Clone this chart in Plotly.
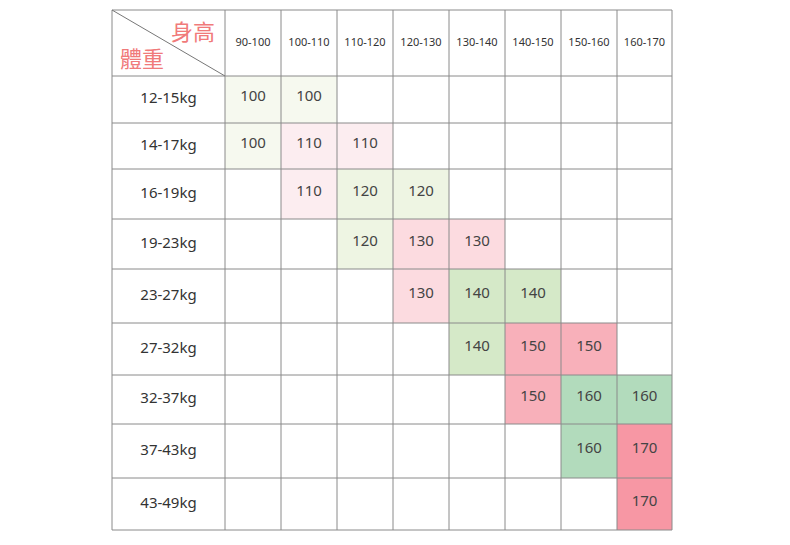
import plotly.graph_objects as go

heights = ["90-100", "100-110", "110-120", "120-130", "130-140", "140-150", "150-160", "160-170"]
weights = ["12-15kg", "14-17kg", "16-19kg", "19-23kg", "23-27kg", "27-32kg", "32-37kg", "37-43kg", "43-49kg"]
sizes = [
    [100, 100, None, None, None, None, None, None],
    [100, 110, 110, None, None, None, None, None],
    [None, 110, 120, 120, None, None, None, None],
    [None, None, 120, 130, 130, None, None, None],
    [None, None, None, 130, 140, 140, None, None],
    [None, None, None, None, 140, 150, 150, None],
    [None, None, None, None, None, 150, 160, 160],
    [None, None, None, None, None, None, 160, 170],
    [None, None, None, None, None, None, None, 170],
]
size_colors = {100: "#f6f9ef", 110: "#fcedf0", 120: "#eef5e3", 130: "#fcdbe0",
               140: "#d5e9c8", 150: "#f8b0ba", 160: "#b2dbbc", 170: "#f797a4"}

# pixel layout of the table
col_edges = [112, 225, 281, 337, 393, 449, 505, 561, 617, 672]
row_edges = [10, 76, 123, 169, 219, 269, 323, 375, 424, 478, 530]
line_col = "#8a8a8a"
font = "Malgun Gothic, Noto Sans, sans-serif"

fig = go.Figure()
shapes = []
for r, row in enumerate(sizes):
    for c, v in enumerate(row):
        if v is None:
            continue
        shapes.append(dict(type="rect", x0=col_edges[c + 1], x1=col_edges[c + 2],
                           y0=row_edges[r + 1], y1=row_edges[r + 2],
                           fillcolor=size_colors[v], line_width=0, layer="below"))
for x in col_edges:
    shapes.append(dict(type="line", x0=x, x1=x, y0=row_edges[0], y1=row_edges[-1], line=dict(color=line_col, width=1)))
for y in row_edges:
    shapes.append(dict(type="line", x0=col_edges[0], x1=col_edges[-1], y0=y, y1=y, line=dict(color=line_col, width=1)))
shapes.append(dict(type="line", x0=col_edges[0], x1=col_edges[1], y0=row_edges[0], y1=row_edges[1],
                   line=dict(color="#777", width=1)))

# header row
hx = [(col_edges[i + 1] + col_edges[i + 2]) / 2 for i in range(len(heights))]
fig.add_trace(go.Scatter(x=hx, y=[(row_edges[0] + row_edges[1]) / 2] * len(heights), mode="text",
                         text=heights, textfont=dict(size=11, color="#333", family=font)))
# weight labels
wy = [(row_edges[i + 1] + row_edges[i + 2]) / 2 for i in range(len(weights))]
fig.add_trace(go.Scatter(x=[(col_edges[0] + col_edges[1]) / 2] * len(weights), y=wy, mode="text",
                         text=weights, textfont=dict(size=15, color="#333", family=font)))
# values
vx, vy, vt = [], [], []
for r, row in enumerate(sizes):
    for c, v in enumerate(row):
        if v is not None:
            vx.append((col_edges[c + 1] + col_edges[c + 2]) / 2)
            vy.append((row_edges[r + 1] + row_edges[r + 2]) / 2 - 2)
            vt.append(str(v))
fig.add_trace(go.Scatter(x=vx, y=vy, mode="text", text=vt,
                         textfont=dict(size=15, color="#444", family=font)))

fig.add_annotation(x=193, y=30, text="身高", showarrow=False,
                   font=dict(size=22, color="#f07a7a", family="Noto Sans CJK TC"))
fig.add_annotation(x=142, y=57, text="體重", showarrow=False,
                   font=dict(size=22, color="#f07a7a", family="Noto Sans CJK TC"))

fig.update_layout(width=790, height=545, margin=dict(l=0, r=0, t=0, b=0),
                  plot_bgcolor="white", paper_bgcolor="white", showlegend=False, shapes=shapes)
fig.update_xaxes(range=[8, 798], visible=False)
fig.update_yaxes(range=[553, 8], visible=False)
fig.write_html("out.html")
